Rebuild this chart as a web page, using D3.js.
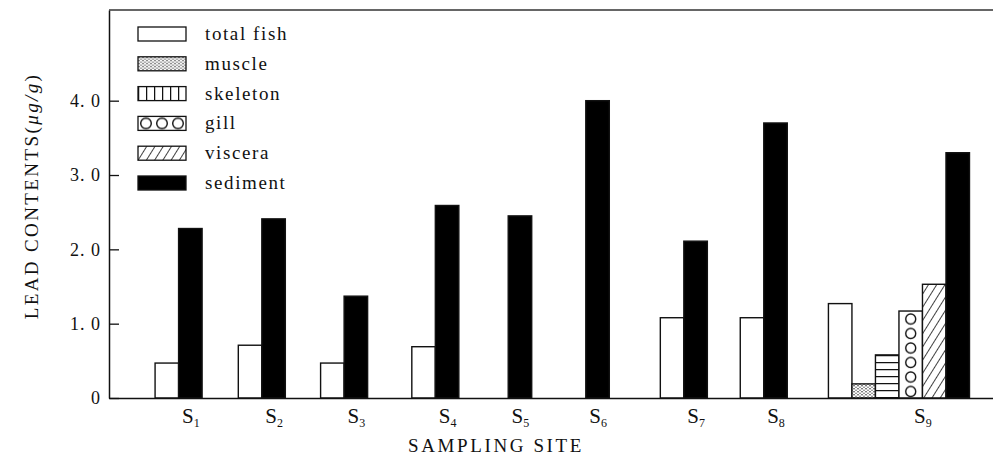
<!DOCTYPE html>
<html>
<head>
<meta charset="utf-8">
<script src="https://cdn.jsdelivr.net/npm/d3@7"></script>
<style>
  body { margin: 0; background: #fff; }
</style>
</head>
<body>
<div id="chart"></div>
<script>
// data (lead, ug/g)
var sites = ["1", "2", "3", "4", "5", "6", "7", "8", "9"];
var totalFish = [0.47, 0.71, 0.47, 0.69, null, null, 1.08, 1.08, 1.27];
var sediment = [2.28, 2.41, 1.37, 2.59, 2.45, 4.0, 2.11, 3.70, 3.30];
// tissue values only measured at S9
var tissueSite = 8;
var tissues = ["muscle", "skeleton", "gill", "viscera"];
var tissueValues = [0.19, 0.58, 1.17, 1.53];
var yTicks = [0, 1, 2, 3, 4];
var legendItems = ["total fish", "muscle", "skeleton", "gill", "viscera", "sediment"];

// layout: where each site group starts, in bar-width units along the axis
var siteStart = [1.96, 5.5, 9.0, 12.88, 15.98, 19.28, 23.45, 26.85, 30.6];

var FONT = '"Liberation Serif", "Times New Roman", serif';

var svgWidth = 993;
var svgHeight = 468;
var margin = { top: 10, right: 0, bottom: 70, left: 109 };
var width = svgWidth - margin.left - margin.right;
var height = svgHeight - margin.top - margin.bottom;

var svg = d3.select("#chart")
  .append("svg")
  .attr("width", svgWidth)
  .attr("height", svgHeight);

// scales
var barUnits = 37.6;
var xScale = d3.scaleLinear()
  .domain([0, barUnits])
  .range([0, width]);
var barW = xScale(1) - xScale(0);

var yScale = d3.scaleLinear()
  .domain([0, 5.22])
  .range([height, 0]);

// build bar list: slot 0 = total fish, then tissues (S9 only), last = sediment
var bars = [];
sites.forEach(function(s, i) {
  if (totalFish[i] != null) bars.push({ site: i, slot: 0, key: "total fish", value: totalFish[i] });
  var slot = 1;
  if (i === tissueSite) {
    tissues.forEach(function(t, j) {
      bars.push({ site: i, slot: slot, key: t, value: tissueValues[j] });
      slot++;
    });
  }
  bars.push({ site: i, slot: slot, key: "sediment", value: sediment[i] });
});

// hatch patterns (userSpaceOnUse = coordinates of the group that uses them)
var defs = svg.append("defs");

var dots = defs.append("pattern")
  .attr("id", "pat-muscle")
  .attr("patternUnits", "userSpaceOnUse")
  .attr("width", 4).attr("height", 3);
dots.append("rect").attr("width", 4).attr("height", 3).attr("fill", "#fff");
dots.append("circle").attr("cx", 1).attr("cy", 0.8).attr("r", 0.75).attr("fill", "#222");
dots.append("circle").attr("cx", 3).attr("cy", 2.3).attr("r", 0.7).attr("fill", "#444");

var hStripes = defs.append("pattern")
  .attr("id", "pat-skeleton")
  .attr("patternUnits", "userSpaceOnUse")
  .attr("width", 10).attr("height", 7)
  .attr("y", height - 1);
hStripes.append("rect").attr("width", 10).attr("height", 7).attr("fill", "#fff");
hStripes.append("line").attr("x1", 0).attr("x2", 10).attr("y1", 0.5).attr("y2", 0.5)
  .attr("stroke", "#111").attr("stroke-width", 1.5);

var vStripes = defs.append("pattern")
  .attr("id", "pat-skeleton-legend")
  .attr("patternUnits", "userSpaceOnUse")
  .attr("width", 8).attr("height", 10)
  .attr("x", 0);
vStripes.append("rect").attr("width", 8).attr("height", 10).attr("fill", "#fff");
vStripes.append("line").attr("x1", 0.5).attr("x2", 0.5).attr("y1", 0).attr("y2", 10)
  .attr("stroke", "#111").attr("stroke-width", 1.5);

// gill circles sit in the centre of their bar
var gillBar = bars.find(d => d.key === "gill");
var gillX = xScale(siteStart[gillBar.site] + gillBar.slot);
var circ = defs.append("pattern")
  .attr("id", "pat-gill")
  .attr("patternUnits", "userSpaceOnUse")
  .attr("width", 40).attr("height", 14.5)
  .attr("x", gillX).attr("y", height - 14.5 + 1);
circ.append("rect").attr("width", 40).attr("height", 14.5).attr("fill", "#fff");
circ.append("circle").attr("cx", barW / 2).attr("cy", 7).attr("r", 5)
  .attr("fill", "none").attr("stroke", "#111").attr("stroke-width", 1.4);

var legendTop = 27;
var rowStep = 29.8;
var circLegend = defs.append("pattern")
  .attr("id", "pat-gill-legend")
  .attr("patternUnits", "userSpaceOnUse")
  .attr("width", 16).attr("height", 14)
  .attr("x", 0).attr("y", 0);
circLegend.append("rect").attr("width", 16).attr("height", 14).attr("fill", "#fff");
circLegend.append("circle").attr("cx", 8).attr("cy", 7).attr("r", 5.3)
  .attr("fill", "none").attr("stroke", "#111").attr("stroke-width", 1.4);

var diag = defs.append("pattern")
  .attr("id", "pat-viscera")
  .attr("patternUnits", "userSpaceOnUse")
  .attr("width", 7).attr("height", 7)
  .attr("patternTransform", "rotate(32)");
diag.append("rect").attr("width", 7).attr("height", 7).attr("fill", "#fff");
diag.append("line").attr("x1", 0).attr("x2", 0).attr("y1", 0).attr("y2", 7)
  .attr("stroke", "#111").attr("stroke-width", 1.6);

var fills = {
  "total fish": "#fff",
  "muscle": "url(#pat-muscle)",
  "skeleton": "url(#pat-skeleton)",
  "gill": "url(#pat-gill)",
  "viscera": "url(#pat-viscera)",
  "sediment": "#000"
};

var chartGroup = svg.append("g")
  .attr("transform", `translate(${margin.left}, ${margin.top})`);

chartGroup.selectAll(".bar")
  .data(bars)
  .enter()
  .append("rect")
  .attr("class", "bar")
  .attr("x", d => xScale(siteStart[d.site] + d.slot))
  .attr("y", d => yScale(d.value))
  .attr("width", barW)
  .attr("height", d => height - yScale(d.value))
  .attr("fill", d => fills[d.key])
  .attr("stroke", "#111")
  .attr("stroke-width", 1.4);

// y axis, ticks pointing inward
var yAxis = d3.axisLeft(yScale)
  .tickValues(yTicks)
  .tickSize(-10)
  .tickSizeOuter(0)
  .tickPadding(8)
  .tickFormat(d => d === 0 ? "0" : d3.format(".1f")(d).replace(".", ". "));

var yG = chartGroup.append("g").call(yAxis);
yG.select(".domain").attr("stroke", "#111").attr("stroke-width", 1.5);
yG.selectAll(".tick line").attr("stroke", "#111").attr("stroke-width", 1.3);
yG.selectAll(".tick text")
  .style("font-family", FONT)
  .style("font-size", "18px")
  .style("letter-spacing", "1px")
  .attr("fill", "#111");

// top frame line
chartGroup.append("line")
  .attr("x1", 0).attr("x2", width)
  .attr("y1", 0).attr("y2", 0)
  .attr("stroke", "#333").attr("stroke-width", 1.3);

// x axis with site labels under the sediment bar (S9 between gill and viscera)
var labelPos = sites.map(function(s, i) {
  if (i === tissueSite) return siteStart[i] + 4;
  return siteStart[i] + 1.5;
});
var xAxis = d3.axisBottom(xScale)
  .tickValues(labelPos)
  .tickSize(0)
  .tickSizeOuter(0)
  .tickPadding(10)
  .tickFormat((d, i) => sites[i]);

var xG = chartGroup.append("g")
  .attr("transform", `translate(0, ${height})`)
  .call(xAxis);
xG.select(".domain").attr("stroke", "#111").attr("stroke-width", 1.5);
xG.selectAll(".tick text").each(function(d, i) {
  var t = d3.select(this);
  t.text(null)
    .style("font-family", FONT)
    .style("font-size", "21px")
    .attr("fill", "#111");
  t.append("tspan").text("S");
  t.append("tspan").style("font-size", "12px").attr("dy", "0.3em").text(sites[i]);
});

// legend
var legend = svg.append("g")
  .attr("transform", `translate(138, ${legendTop})`);
var legendRow = legend.selectAll("g")
  .data(legendItems)
  .enter()
  .append("g")
  .attr("transform", (d, i) => `translate(0, ${i * rowStep})`);

legendRow.append("rect")
  .attr("width", 48)
  .attr("height", 14)
  .attr("fill", function(d) {
    if (d === "skeleton") return "url(#pat-skeleton-legend)";
    if (d === "gill") return "url(#pat-gill-legend)";
    return fills[d];
  })
  .attr("stroke", "#111")
  .attr("stroke-width", 1.3);

legendRow.append("text")
  .attr("x", 67)
  .attr("y", 13)
  .style("font-family", FONT)
  .style("font-size", "19px")
  .style("letter-spacing", "1.6px")
  .attr("fill", "#111")
  .text(d => d);

// axis titles
svg.append("g")
  .attr("transform", "translate(38, 196)")
  .append("text")
  .attr("text-anchor", "middle")
  .attr("transform", "rotate(-90)")
  .style("font-family", FONT)
  .style("font-size", "19px")
  .style("letter-spacing", "2.4px")
  .attr("fill", "#111")
  .call(function(t) {
    t.append("tspan").text("LEAD  CONTENTS(");
    t.append("tspan").style("font-style", "italic").text("μg/g");
    t.append("tspan").text(")");
  });

svg.append("text")
  .attr("x", 496)
  .attr("y", 452)
  .attr("text-anchor", "middle")
  .style("font-family", FONT)
  .style("font-size", "19px")
  .style("letter-spacing", "2.6px")
  .attr("fill", "#111")
  .text("SAMPLING SITE");
</script>
</body>
</html>
